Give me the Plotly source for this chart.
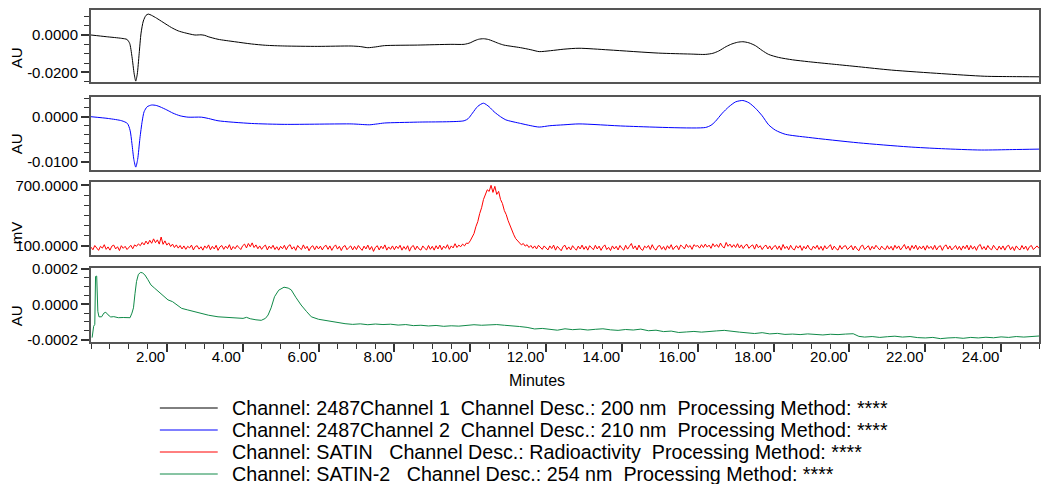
import plotly.graph_objects as go

# ---------------- data ----------------
# Channel 1: 200 nm absorbance (AU)
ch1_t = [0.0, 0.4, 0.81, 0.95, 1.02, 1.08, 1.14, 1.18, 1.22, 1.27, 1.32, 1.38, 1.45, 1.51, 1.6,
         1.73, 1.9, 2.12, 2.3, 2.47, 2.74, 2.9, 3.0, 3.09, 3.35, 3.79, 4.23, 4.6, 5.11, 5.98,
         6.86, 7.1, 7.3, 7.5, 7.74, 8.61, 9.49, 9.84, 10.0, 10.1, 10.22, 10.35, 10.48, 10.59,
         10.75, 10.89, 11.1, 11.33, 11.6, 11.82, 12.12, 12.47, 12.87, 13.66, 14.97, 15.8, 16.2,
         16.4, 16.55, 16.75, 16.9, 17.05, 17.19, 17.35, 17.52, 17.7, 17.87, 18.13, 18.5, 18.92,
         19.6, 20.24, 21.11, 22.43, 23.57, 24.3, 25.0]
ch1_au = [0.0, -0.0009, -0.0018, -0.0024, -0.0045, -0.0115, -0.0210, -0.0247, -0.0210, -0.0100,
          0.0010, 0.0075, 0.0105, 0.0112, 0.0105, 0.0090, 0.0068, 0.0040, 0.0022, 0.0012, 0.0,
          0.0001, -0.0002, -0.0009, -0.0023, -0.0036, -0.0048, -0.0055, -0.0059, -0.0061,
          -0.0059, -0.0062, -0.0068, -0.0064, -0.0057, -0.0054, -0.0050, -0.0050, -0.0042,
          -0.0032, -0.0023, -0.0020, -0.0024, -0.0032, -0.0045, -0.0054, -0.0061, -0.0068,
          -0.0079, -0.0089, -0.0084, -0.0076, -0.0071, -0.0080, -0.0097, -0.0102, -0.0104,
          -0.0098, -0.0086, -0.0062, -0.0048, -0.0039, -0.0036, -0.0042, -0.0057, -0.0083,
          -0.0104, -0.0120, -0.0133, -0.0143, -0.0157, -0.0170, -0.0188, -0.0207, -0.0221,
          -0.0223, -0.0224]

# Channel 2: 210 nm absorbance (AU)
ch2_t = [0.0, 0.46, 0.81, 0.96, 1.03, 1.08, 1.13, 1.18, 1.23, 1.29, 1.35, 1.40, 1.48, 1.60, 1.72,
         1.82, 2.0, 2.16, 2.35, 2.56, 2.91, 3.1, 3.35, 4.23, 5.11, 6.86, 7.1, 7.34, 7.55, 7.74,
         8.61, 9.84, 9.95, 10.06, 10.2, 10.35, 10.5, 10.63, 10.8, 10.94, 11.33, 11.6, 11.82,
         12.1, 12.47, 12.87, 14.1, 16.2, 16.35, 16.46, 16.65, 16.82, 17.0, 17.19, 17.35, 17.52,
         17.7, 17.87, 18.05, 18.31, 18.92, 20.24, 21.55, 22.43, 23.48, 24.3, 25.0]
ch2_au = [0.0, -0.0004, -0.0009, -0.0015, -0.0030, -0.0060, -0.0095, -0.0112, -0.0095, -0.0048,
          -0.0010, 0.0011, 0.0022, 0.0026, 0.0025, 0.0022, 0.0015, 0.0008, 0.0002, -0.0001,
          -0.0001, -0.0004, -0.0009, -0.0015, -0.0017, -0.0016, -0.0017, -0.0018, -0.0016,
          -0.0014, -0.0012, -0.0009, -0.0004, 0.0008, 0.0023, 0.0030, 0.0022, 0.0011, 0.0,
          -0.0007, -0.0015, -0.0020, -0.0023, -0.0020, -0.0018, -0.0016, -0.0021, -0.0024,
          -0.0019, -0.0011, 0.0008, 0.0022, 0.0033, 0.0036, 0.0031, 0.0019, 0.0002, -0.0018,
          -0.0030, -0.0039, -0.0046, -0.0058, -0.0067, -0.0071, -0.0074, -0.0073, -0.0072]

# SATIN radioactivity detector (mV), sampled every 0.05 min from 0.00
radio_step = 0.05
radio_mv = [
    88, 62, 104, 74, 56, 96, 78, 112, 66, 90, 58, 98, 108, 70, 92, 54, 102, 76, 96, 64,
    90, 106, 72, 110, 96, 120, 102, 134, 110, 148, 118, 156, 126, 170, 132, 160, 118, 188, 116, 150,
    108, 130, 94, 118, 84, 110, 78, 104, 70, 100, 66, 96, 80, 108, 60, 94, 102, 68, 92, 58,
    100, 76, 110, 62, 96, 70, 106, 56, 90, 104, 66, 98, 74, 112, 60, 94, 72, 104, 86, 64,
    102, 118, 80, 124, 92, 130, 84, 110, 72, 100, 66, 94, 108, 60, 98, 74, 106, 64, 92, 58,
    96, 72, 106, 62, 98, 112, 68, 92, 56, 104, 80, 64, 110, 72, 96, 52, 88, 102, 62, 100,
    70, 98, 60, 94, 106, 66, 100, 56, 90, 110, 68, 96, 54, 92, 104, 62, 84, 100, 60, 96,
    64, 104, 78, 56, 98, 70, 108, 62, 94, 46, 86, 102, 60, 98, 72, 110, 58, 90, 66, 100,
    62, 98, 74, 106, 58, 94, 66, 102, 48, 90, 104, 62, 98, 70, 58, 100, 76, 60, 104, 66,
    96, 58, 102, 70, 108, 62, 98, 76, 112, 66, 100, 80, 122, 84, 108, 92, 118, 100, 128, 124,
    150, 186, 222, 290, 340, 420, 478, 560, 600, 656, 640, 700, 630, 690, 610, 640, 560, 520, 450, 410,
    350, 300, 250, 210, 172, 148, 126, 110, 124, 98, 112, 84, 104, 76, 100, 70, 106, 88, 66, 100,
    80, 60, 100, 74, 108, 58, 96, 70, 52, 94, 106, 64, 90, 60, 102, 76, 58, 98, 70, 108,
    66, 96, 58, 102, 78, 62, 106, 70, 98, 56, 90, 110, 64, 86, 54, 100, 70, 96, 60, 104,
    76, 58, 106, 68, 96, 124, 72, 100, 60, 108, 70, 56, 98, 80, 104, 64, 112, 74, 58, 96,
    104, 66, 94, 58, 102, 74, 112, 64, 90, 102, 62, 108, 94, 70, 116, 86, 104, 66, 112, 96,
    104, 78, 112, 84, 118, 88, 108, 76, 122, 92, 114, 86, 128, 94, 80, 134, 96, 118, 86, 112,
    84, 122, 80, 110, 74, 104, 116, 76, 98, 110, 68, 118, 82, 102, 64, 94, 108, 70, 100, 62,
    92, 104, 66, 100, 58, 114, 74, 96, 62, 106, 72, 60, 102, 78, 104, 56, 96, 70, 108, 72,
    60, 98, 74, 106, 64, 96, 56, 102, 70, 92, 112, 60, 98, 72, 58, 104, 68, 96, 102, 64,
    90, 104, 60, 98, 70, 52, 96, 108, 64, 86, 102, 58, 96, 70, 106, 82, 60, 98, 74, 64,
    102, 68, 96, 58, 106, 74, 100, 60, 90, 114, 68, 98, 56, 104, 72, 108, 62, 96, 70, 100,
    58, 104, 74, 96, 64, 106, 60, 92, 102, 56, 96, 110, 68, 100, 60, 88, 104, 64, 96, 58,
    100, 72, 108, 60, 104, 68, 96, 56, 100, 114, 66, 94, 60, 104, 74, 62, 106, 78, 58, 98,
    66, 100, 58, 96, 106, 62, 92, 54, 100, 74, 60, 104, 68, 98, 56, 92, 104, 64, 86, 100,
    76,
]
radio_t = [round(i * radio_step, 2) for i in range(len(radio_mv))]

# SATIN-2: 254 nm absorbance (AU)
sat2_t = [0.03, 0.07, 0.10, 0.12, 0.15, 0.18, 0.21, 0.28, 0.34, 0.39, 0.45, 0.52, 0.6, 0.72, 0.85,
          1.03, 1.08, 1.12, 1.16, 1.2, 1.25, 1.31, 1.36, 1.42, 1.5, 1.58, 1.68, 1.8, 1.9, 2.03,
          2.15, 2.25, 2.39, 2.55, 2.7, 2.91, 3.1, 3.35, 3.6, 3.8, 4.01, 4.1, 4.2, 4.35, 4.49,
          4.6, 4.67, 4.75, 4.84, 4.95, 5.09, 5.2, 5.28, 5.4, 5.54, 5.68, 5.81, 6.0, 6.15, 6.33,
          6.5, 6.7, 6.9, 7.1, 7.3, 7.5, 7.7, 7.9, 8.1, 8.3, 8.5, 8.7, 8.9, 9.1, 9.3, 9.5, 9.7,
          9.9, 10.1, 10.3, 10.5, 10.7, 10.9, 11.1, 11.3, 11.5, 11.7, 11.9, 12.1, 12.3, 12.5,
          12.7, 12.9, 13.1, 13.3, 13.5, 13.7, 13.9, 14.1, 14.3, 14.5, 14.7, 14.9, 15.1, 15.3,
          15.5, 15.7, 15.9, 16.1, 16.3, 16.5, 16.7, 16.9, 17.1, 17.3, 17.5, 17.7, 17.9, 18.1,
          18.3, 18.5, 18.7, 18.9, 19.1, 19.3, 19.5, 19.7, 19.9, 20.1, 20.25, 20.4, 20.6, 20.8,
          21.0, 21.2, 21.4, 21.6, 21.8, 22.0, 22.2, 22.4, 22.6, 22.8, 23.0, 23.2, 23.4, 23.6,
          23.8, 24.0, 24.2, 24.4, 24.6, 24.8, 25.0]
sat2_au = [-0.000189, -0.000125, -0.000114, 0.000158, 0.000160, -0.000040, -0.000071, -0.000071,
           -0.000050, -0.000045, -0.000060, -0.000072, -0.000070, -0.000076, -0.000075, -0.000076,
           -0.000050, -0.000020, 0.000060, 0.000129, 0.000170, 0.000181, 0.000178, 0.000167,
           0.000140, 0.000110, 0.000091, 0.000070, 0.000050, 0.000025, 0.000015, -0.000002,
           -0.000023, -0.000032, -0.000040, -0.000051, -0.000062, -0.000071, -0.000075,
           -0.000078, -0.000080, -0.000074, -0.000082, -0.000088, -0.000091, -0.000080,
           -0.000061, -0.000020, 0.000043, 0.000080, 0.000097, 0.000092, 0.000082, 0.000040,
           -0.000004, -0.000040, -0.000071, -0.000085, -0.000090, -0.000100,
           -0.000104, -0.000110, -0.000114, -0.000111, -0.000116, -0.000112, -0.000115,
           -0.000113, -0.000118, -0.000115, -0.000121, -0.000119, -0.000123, -0.000120,
           -0.000125, -0.000122, -0.000124, -0.000118, -0.000116, -0.000119, -0.000117,
           -0.000115, -0.000119, -0.000121, -0.000126, -0.000131, -0.000140, -0.000137,
           -0.000143, -0.000147, -0.000139, -0.000144, -0.000141, -0.000146, -0.000142,
           -0.000139, -0.000145, -0.000148, -0.000143, -0.000146, -0.000141, -0.000150,
           -0.000147, -0.000155, -0.000152, -0.000160, -0.000157, -0.000154, -0.000158,
           -0.000153, -0.000151, -0.000148, -0.000155, -0.000158, -0.000162, -0.000166,
           -0.000161, -0.000168, -0.000165, -0.000171, -0.000169, -0.000172, -0.000168,
           -0.000171, -0.000174, -0.000170, -0.000172, -0.000169, -0.000167, -0.000182,
           -0.000186, -0.000183, -0.000188, -0.000184, -0.000181, -0.000186, -0.000183,
           -0.000189, -0.000191, -0.000188, -0.000195, -0.000191, -0.000189, -0.000193,
           -0.000188, -0.000191, -0.000187, -0.000190, -0.000185, -0.000188, -0.000183,
           -0.000186, -0.000181, -0.000180]

x_tick_vals = [2, 4, 6, 8, 10, 12, 14, 16, 18, 20, 22, 24]
x_tick_text = ["2.00", "4.00", "6.00", "8.00", "10.00", "12.00", "14.00", "16.00",
               "18.00", "20.00", "22.00", "24.00"]

legend_text = [
    "Channel: 2487Channel 1\u00a0 Channel Desc.: 200 nm\u00a0 Processing Method: ****",
    "Channel: 2487Channel 2\u00a0 Channel Desc.: 210 nm\u00a0 Processing Method: ****",
    "Channel: SATIN\u00a0\u00a0 Channel Desc.: Radioactivity\u00a0 Processing Method: ****",
    "Channel: SATIN-2\u00a0\u00a0 Channel Desc.: 254 nm\u00a0 Processing Method: ****",
]
colors = ["#000000", "#0000ff", "#ff0000", "#108a48"]

# ---------------- layout geometry (pixels) ----------------
W, H = 1042, 484
LEFT, RIGHT = 91, 1041
TOP, BOTTOM = 10, 342
panel_px = [(10, 82), (97, 170), (182, 255), (268, 342)]


def fy(ypx):
    return (BOTTOM - ypx) / (BOTTOM - TOP)


def fx(xpx):
    return (xpx - LEFT) / (RIGHT - LEFT)


FONT = "Liberation Sans, Arial, Helvetica, sans-serif"
FRAME = "#555555"

fig = go.Figure()
fig.add_trace(go.Scatter(x=ch1_t, y=ch1_au, mode="lines", xaxis="x", yaxis="y",
                         line=dict(color=colors[0], width=1, shape="spline", smoothing=0.7)))
fig.add_trace(go.Scatter(x=ch2_t, y=ch2_au, mode="lines", xaxis="x2", yaxis="y2",
                         line=dict(color=colors[1], width=1, shape="spline", smoothing=0.7)))
fig.add_trace(go.Scatter(x=radio_t, y=radio_mv, mode="lines", xaxis="x3", yaxis="y3",
                         line=dict(color=colors[2], width=1)))
fig.add_trace(go.Scatter(x=sat2_t, y=sat2_au, mode="lines", xaxis="x4", yaxis="y4",
                         line=dict(color=colors[3], width=1)))

y_specs = [
    dict(range=[-0.02518, 0.01339], tickvals=[0.0, -0.02], ticktext=["0.0000", "-0.0200"], minor=0.005),
    dict(range=[-0.01184, 0.00438], tickvals=[0.0, -0.01], ticktext=["0.0000", "-0.0100"], minor=0.002),
    dict(range=[10, 733], tickvals=[100, 700], ticktext=["100.0000", "700.0000"], minor=100),
    dict(range=[-0.000214, 0.000206], tickvals=[0.0002, 0.0, -0.0002],
         ticktext=["0.0002", "0.0000", "-0.0002"], minor=0.00005),
]

layout = dict(
    width=W, height=H,
    margin=dict(l=LEFT, r=W - RIGHT, t=TOP, b=H - BOTTOM),
    paper_bgcolor="white", plot_bgcolor="white",
    showlegend=False,
    font=dict(family=FONT, size=15, color="#000000"),
)

for i, (spec, (ptop, pbot)) in enumerate(zip(y_specs, panel_px), start=1):
    sfx = "" if i == 1 else str(i)
    bottom_panel = i == 4
    xa = dict(domain=[0, 1], range=[0, 25], anchor="y" + sfx, showgrid=False, zeroline=False,
              showline=True, mirror=True, linecolor=FRAME, linewidth=2)
    if bottom_panel:
        xa.update(tickvals=x_tick_vals, ticktext=x_tick_text, ticks="outside", ticklen=8,
                  tickwidth=1.5, tickcolor="#333333", ticklabelposition="outside left",
                  tickfont=dict(size=15, family=FONT, color="#000000"),
                  minor=dict(dtick=0.5, tick0=0, ticks="outside", ticklen=5, tickwidth=1,
                             tickcolor="#333333"))
    else:
        xa.update(showticklabels=False, ticks="")
    ya = dict(domain=[fy(pbot), fy(ptop)], range=spec["range"], anchor="x" + sfx,
              showgrid=False, zeroline=False, showline=True, mirror=True, linecolor=FRAME,
              linewidth=2, tickvals=spec["tickvals"], ticktext=spec["ticktext"],
              ticks="outside", ticklen=8, tickwidth=1.5, tickcolor="#333333",
              tickfont=dict(size=15, family=FONT, color="#000000"),
              minor=dict(dtick=spec["minor"], tick0=0, ticks="outside", ticklen=5, tickwidth=1,
                         tickcolor="#333333"))
    layout["xaxis" + sfx] = xa
    layout["yaxis" + sfx] = ya

fig.update_layout(**layout)

# axis titles
for label, ycen in zip(["AU", "AU", "mV", "AU"], [58, 144, 233, 316]):
    fig.add_annotation(text=label, xref="paper", yref="paper", x=fx(16), y=fy(ycen),
                       textangle=-90, showarrow=False, xanchor="center", yanchor="middle",
                       font=dict(size=15, family=FONT, color="#000000"))
fig.add_annotation(text="Minutes", xref="paper", yref="paper", x=fx(538), y=fy(380),
                   showarrow=False, xanchor="center", yanchor="middle",
                   font=dict(size=16, family=FONT, color="#000000"))

# legend block
for k, (txt, col) in enumerate(zip(legend_text, colors)):
    yrow = 408 + 22 * k
    fig.add_shape(type="line", xref="paper", yref="paper", x0=fx(160), x1=fx(218),
                  y0=fy(yrow), y1=fy(yrow), line=dict(color=col, width=1))
    fig.add_annotation(text=txt, xref="paper", yref="paper", x=fx(230), y=fy(yrow),
                       showarrow=False, xanchor="left", yanchor="middle",
                       font=dict(size=19.7, family=FONT, color="#000000"))

fig.write_html("out.html")
